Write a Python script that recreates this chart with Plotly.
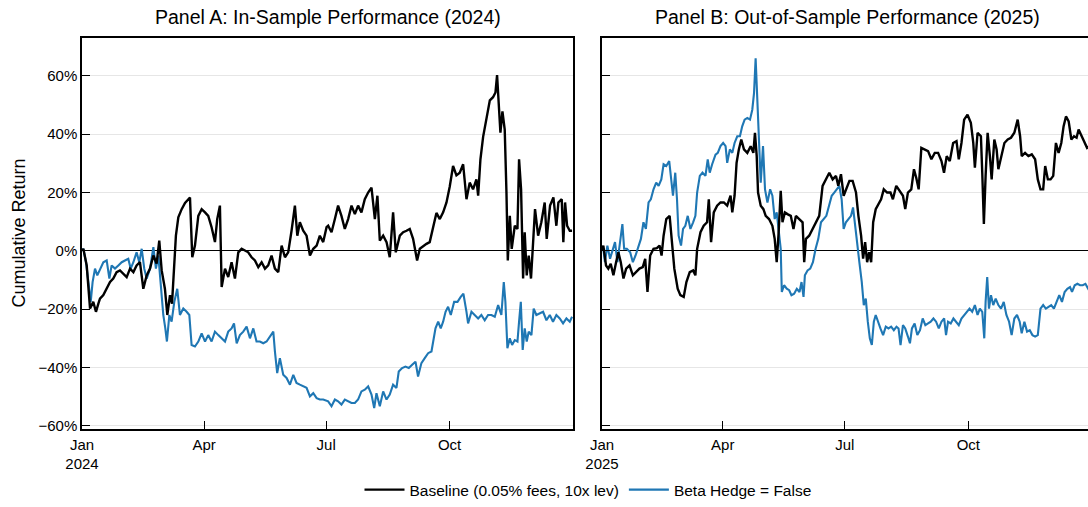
import pandas as pd
import plotly.graph_objects as go
from plotly.subplots import make_subplots

# --------------------------------------------------
# DATA (day offset from Jan 1, cumulative return in %)
# --------------------------------------------------
days_a_base = [
    0, 1.0, 3.5, 6.0, 8.4, 10.4, 12.2, 13.4, 15.9, 18.4, 20.9,
    23.3, 25.8, 28.3, 30.8, 33.3, 35.8, 38.3, 40.7, 43.2, 45.7,
    48.2, 50.7, 53.2, 55.6, 57.6, 59.4, 61.8, 63.6, 65.6, 67.1,
    68.6, 70.0, 71.8, 74.3, 76.8, 79.2, 80.5, 82.2, 84.2, 86.7,
    89.2, 91.7, 94.1, 96.6, 99.1, 100.8, 102.8, 104.1, 106.6, 109.0,
    111.5, 114.0, 116.5, 119.0, 121.5, 123.9, 126.4, 128.9, 131.4, 133.9,
    136.4, 138.8, 141.3, 143.8, 146.3, 148.8, 151.3, 153.7, 156.2, 158.7,
    160.5, 162.4, 164.9, 167.4, 169.9, 172.4, 174.9, 177.3, 179.8, 182.3,
    183.5, 186.0, 188.5, 190.9, 193.4, 195.9, 198.4, 200.9, 203.4, 205.8,
    208.3, 210.8, 213.3, 215.8, 218.3, 220.2, 222.0, 224.5, 227.0, 229.4,
    231.9, 233.9, 236.9, 239.4, 241.9, 244.3, 246.8, 249.8, 251.8, 254.3,
    256.8, 259.2, 261.7, 264.2, 266.7, 269.2, 271.7, 274.1, 276.6, 279.1,
    281.6, 284.1, 286.6, 289.0, 291.5, 294.0, 295.3, 297.0, 299.0, 301.5,
    304.0, 306.4, 308.2, 309.4, 310.7, 311.9, 313.4, 315.1, 316.4, 317.4,
    318.9, 320.3, 322.6, 324.6, 325.8, 327.3, 328.8, 330.0, 331.5, 333.0,
    334.7, 336.5, 337.7, 340.0, 342.4, 344.9, 346.4, 348.9, 351.4, 353.6,
    355.1, 357.6, 358.8, 360.1, 361.6, 363.6, 365.3,
]
ret_a_base = [
    0, 0.7, -5.0, -19.8, -17.5, -20.9, -18.1, -16.4, -15.2, -13.0, -10.7,
    -9.5, -7.3, -6.7, -7.8, -9.0, -6.1, -7.3, -5.0, -3.9, -13.0,
    -8.4, -6.1, -1.6, -4.4, 3.5, -6.7, -13.0, -22.0, -15.2, -18.1,
    -6.1, 5.2, 11.5, 14.3, 16.4, 17.5, 18.3, -2.2, 1.8, 12.0,
    14.3, 13.2, 12.0, 8.1, 3.0, 10.9, 15.5, -12.4, -6.1, -9.0,
    -3.9, -9.5, -0.5, 0.7, 0.1, -0.5, -2.2, -3.3, -5.6, -3.9,
    -6.1, -5.0, -1.6, -6.1, -7.3, 1.8, -2.2, -0.5, 6.9, 15.5,
    5.2, 9.8, 6.9, 5.2, -1.6, 0.7, 1.8, 5.2, 3.0, 8.1,
    8.6, 6.4, 10.9, 15.5, 12.0, 7.5, 10.9, 15.5, 12.6, 15.5,
    13.2, 17.7, 20.0, 21.7, 10.9, 18.9, 3.5, 5.2, 3.0, -2.2,
    13.2, -0.5, 5.2, 6.4, 6.9, 7.5, 4.1, -3.3, 0.7, 1.6,
    2.4, 3.0, 7.5, 13.0, 10.9, 13.2, 16.6, 22.0, 29.1, 25.9,
    26.8, 29.7, 17.7, 23.4, 21.1, 24.5, 18.9, 31.4, 39.1, 44.8,
    51.6, 52.7, 54.3, 60.3, 51.8, 40.5, 47.8, 41.6, 20.0, -3.3,
    12.0, 0.7, 8.6, 7.5, 31.4, 21.1, -9.5, 6.4, -8.4, -1.6,
    -9.5, 3.0, 14.3, 5.2, 9.8, 16.6, 4.1, 15.5, 18.3, 8.6,
    16.6, 17.7, 3.0, 16.6, 8.6, 6.9, 6.9,
]

days_a_hedge = [
    0, 1.0, 3.0, 4.7, 6.5, 7.9, 9.7, 11.4, 13.4, 15.9, 18.4,
    20.4, 22.1, 24.6, 27.1, 29.6, 32.0, 34.5, 36.3, 38.3, 40.7,
    42.7, 44.5, 46.4, 48.2, 50.7, 53.2, 55.1, 56.9, 58.6, 60.6,
    62.1, 63.3, 65.1, 66.8, 68.8, 71.0, 73.0, 75.5, 78.0, 80.0,
    81.7, 84.2, 86.7, 89.2, 91.7, 94.1, 96.6, 99.1, 101.6, 104.1,
    106.6, 109.0, 111.5, 113.3, 115.3, 117.7, 120.2, 122.7, 125.2, 127.7,
    130.1, 132.6, 135.1, 137.6, 140.1, 142.6, 143.8, 145.5, 147.5, 150.0,
    152.5, 155.0, 157.5, 159.9, 162.4, 164.9, 167.4, 169.9, 172.4, 174.9,
    177.3, 179.8,
    183.5, 186.0, 188.5, 190.9, 193.4, 195.9, 198.4, 200.9, 203.4, 205.8,
    208.3, 210.8, 213.3, 215.8, 217.8, 219.5, 222.0, 224.5, 227.0, 229.4,
    231.9, 234.4, 236.1, 238.6, 241.1, 243.6, 246.1, 248.6, 250.5, 253.0,
    255.5, 258.0, 260.5, 261.7, 263.5, 265.5, 267.4, 269.2, 271.0, 272.9,
    274.9, 277.4, 279.9, 282.3, 284.3, 286.6, 287.8, 290.3, 292.8, 295.3,
    297.7, 300.2, 302.7, 305.2, 307.7, 310.2, 312.6, 314.4, 315.6, 317.1,
    318.9, 320.6, 322.6, 324.6, 325.8, 327.1, 328.5, 330.0, 331.5, 333.0,
    335.0, 336.7, 338.7, 341.2, 343.7, 346.2, 348.7, 351.1, 353.6, 356.1,
    358.6, 361.1, 363.6, 365.3,
]
ret_a_hedge = [
    0, 0.7, -3.9, -10.7, -17.5, -10.7, -6.1, -8.4, -6.1, -3.9, -3.3,
    -9.5, -5.0, -6.1, -5.0, -3.9, -3.3, -2.7, -6.1, -3.9, -0.5,
    -3.9, 0.7, -6.1, -9.5, -6.1, 1.3, -6.1, -1.6, -10.7, -22.0,
    -26.6, -31.1, -22.0, -24.3, -17.5, -13.0, -22.0, -19.8, -20.9, -22.0,
    -32.3, -32.8, -31.1, -28.3, -31.1, -28.9, -31.1, -27.7, -28.9, -30.0,
    -31.1, -27.7, -26.6, -24.9, -31.7, -28.9, -27.7, -26.0, -30.0, -26.6,
    -31.1, -31.1, -31.7, -31.1, -29.4, -27.7, -34.5, -41.9, -36.8, -42.5,
    -43.6, -45.9, -42.5, -45.3, -45.9, -46.5, -47.0, -49.9, -48.8, -50.5,
    -51.0, -51.0,
    -51.6, -53.3, -51.0, -51.6, -52.7, -51.0, -51.6, -52.2, -52.2, -51.0,
    -48.2, -47.6, -46.5, -49.3, -53.9, -48.8, -53.3, -48.2, -51.0, -49.3,
    -45.9, -47.0, -41.4, -40.2, -39.7, -40.2, -39.1, -38.0, -43.1, -38.5,
    -36.8, -35.1, -34.5, -31.1, -26.6, -24.3, -26.6, -24.3, -20.9, -19.2,
    -22.0, -17.5, -17.5, -15.8, -14.7, -20.9, -24.9, -20.9, -22.0, -23.2,
    -22.0, -23.8, -22.0, -22.0, -22.6, -18.6, -22.0, -10.7, -17.5, -33.4,
    -30.0, -32.3, -30.6, -31.1, -24.3, -17.5, -34.0, -26.6, -31.1, -27.7,
    -28.9, -19.8, -22.0, -21.5, -20.9, -23.8, -22.0, -24.3, -22.0, -23.2,
    -24.9, -23.2, -24.3, -22.6,
]

days_b_base = [
    0, 1.0, 3.0, 4.7, 6.5, 8.5, 10.5, 12.2, 14.0, 16.0, 18.0,
    20.5, 23.0, 25.5, 27.9, 30.4, 32.2, 33.9, 35.9, 38.4, 40.9,
    42.9, 44.4, 45.9, 47.9, 50.4, 52.1, 53.9, 56.4, 58.4, 60.9,
    62.9, 65.4, 67.9, 69.6, 70.9, 73.4, 75.8, 78.3, 79.6, 81.3,
    83.3, 85.8, 88.3, 90.8, 93.3, 95.8, 97.1, 98.8, 100.3, 102.0,
    103.8, 105.8, 108.3, 110.8, 112.8, 114.0, 115.3, 116.3, 118.3, 120.3,
    122.0, 124.5, 127.0, 128.7, 130.2, 131.5, 133.2, 134.5, 136.3, 138.2,
    140.7, 142.7, 144.5, 147.0, 149.5, 150.7, 152.0, 154.4, 156.9, 159.4,
    161.9, 164.4, 166.9, 169.4, 171.9, 174.4, 176.1, 178.1, 180.1, 182.6,
    184.4,
    186.8, 189.3, 191.1, 193.1, 194.6, 196.1, 197.6, 199.1, 200.6, 202.1,
    204.0, 206.0, 208.0, 210.0, 212.5, 215.0, 216.8, 219.3, 221.8, 224.3,
    226.0, 228.0, 230.5, 232.5, 234.2, 236.0, 238.0, 240.5, 243.0, 245.5,
    248.0, 250.5, 253.0, 254.9, 256.9, 259.2, 261.7, 264.2, 265.9, 267.9,
    269.9, 272.4, 274.9, 276.7, 277.9, 279.9, 282.4, 283.4, 284.6, 285.9,
    287.4, 289.1, 290.4, 292.4, 294.1, 295.4, 297.4, 299.9, 302.4, 304.8,
    307.3, 309.8, 311.6, 312.8, 315.3, 317.8, 320.3, 322.8, 324.8, 326.8,
    328.8, 330.3, 332.3, 334.3, 336.3, 338.3, 340.3, 342.3, 344.0, 345.8,
    347.8, 349.8, 351.8, 353.7, 355.2, 357.7, 359.7, 361.5, 363.2,
]
ret_b_base = [
    0, 1.8, -5.0, -6.1, -4.4, -8.4, -3.9, -0.5, -3.9, -9.5, -6.1,
    -5.0, -8.4, -7.3, -6.1, -5.6, -2.7, -14.1, -1.6, 0.7, 0.9,
    1.8, -1.6, 5.2, 10.9, 12.0, 3.0, -6.1, -13.0, -15.2, -15.8,
    -10.7, -7.3, -6.7, -8.4, 0.7, 6.4, 8.6, 9.8, 17.7, 3.0,
    13.2, 15.5, 16.6, 16.6, 15.5, 18.9, 13.2, 18.9, 30.2, 34.8,
    38.2, 34.8, 33.6, 35.9, 33.6, 40.5, 32.5, 20.0, 15.5, 14.3,
    12.0, 10.9, 8.6, 4.1, -3.9, 5.2, 20.6, 9.8, 13.2, 12.6,
    12.0, 7.5, 12.0, 10.9, 9.8, -3.9, 4.1, 5.2, 7.5, 9.8,
    12.0, 22.3, 24.5, 26.8, 24.5, 25.7, 22.3, 26.3, 18.9, 22.3,
    24.0,
    24.0, 20.0, 12.0, 5.2, -2.7, 3.0, -3.9, -0.5, -3.9, 9.8,
    14.3, 16.0, 17.7, 21.1, 20.0, 20.0, 17.7, 22.3, 20.6, 18.9,
    14.3, 20.0, 21.1, 28.0, 25.1, 21.1, 35.3, 34.8, 34.2, 31.4,
    33.6, 33.6, 30.8, 26.8, 32.5, 30.8, 37.0, 37.6, 31.4, 37.0,
    45.0, 46.7, 43.9, 37.0, 28.5, 40.5, 39.3, 26.8, 9.2, 25.7,
    40.5, 32.5, 24.5, 38.2, 34.8, 28.0, 32.5, 37.0, 38.2, 38.8,
    40.5, 45.0, 39.3, 32.5, 33.6, 32.5, 33.1, 31.4, 24.5, 21.1,
    21.1, 29.1, 24.5, 24.5, 25.7, 37.0, 33.6, 37.0, 42.7, 46.1,
    44.4, 38.2, 39.3, 38.8, 41.6, 39.3, 37.0, 35.3, 35.9,
]

days_b_hedge = [
    0, 1.0, 2.2, 4.0, 6.0, 8.0, 9.7, 11.5, 13.5, 15.2, 16.5,
    18.5, 21.0, 23.0, 25.0, 27.2, 29.0, 30.9, 32.7, 34.7, 36.4,
    38.4, 40.4, 42.2, 44.2, 45.9, 47.9, 50.1, 51.6, 52.9, 54.6,
    55.9, 57.1, 58.9, 60.4, 62.1, 63.9, 65.9, 67.9, 69.6, 70.9,
    72.9, 74.9, 77.1, 78.8, 80.3, 82.1, 84.6, 86.3, 88.3, 90.3,
    92.1, 93.3, 95.3, 97.1, 98.8, 100.8, 102.8, 104.5, 106.3, 108.3,
    110.3, 112.0, 113.3, 114.5, 115.8, 117.0, 118.3, 120.0, 121.5, 123.3,
    125.3, 127.0, 128.7, 130.2, 132.0, 133.2, 134.0, 135.7, 137.7, 139.5,
    141.2, 143.2, 145.2, 147.2, 148.7, 150.2, 151.2, 153.2, 155.2, 157.2,
    159.2, 161.2, 163.2, 165.2, 167.2, 169.2, 171.2, 173.1, 175.1, 176.9,
    178.6,
    180.1, 181.8, 183.6, 185.6, 187.1, 188.6, 190.1, 191.8, 193.6, 195.1,
    196.6, 198.1, 199.6, 201.1, 202.6, 204.0, 205.5, 207.5, 209.5, 211.5,
    213.5, 215.5, 217.5, 219.5, 221.0, 222.5, 224.3, 226.0, 228.0, 229.5,
    231.0, 233.0, 235.0, 237.0, 239.0, 241.0, 243.0, 245.0, 247.0, 249.0,
    251.0, 253.0, 255.0, 256.4, 257.9, 259.9, 261.9, 263.9, 265.9, 267.9,
    269.9, 271.9, 273.9, 275.9, 277.9, 279.9, 281.6, 283.4, 284.9, 285.9,
    287.1, 288.4, 289.9, 291.6, 293.4, 295.4, 297.4, 299.4, 301.4, 303.4,
    305.3, 307.3, 309.3, 311.3, 312.8, 314.8, 316.8, 318.8, 320.8, 322.8,
    324.8, 326.8, 328.8, 330.8, 332.8, 334.8, 336.8, 338.8, 340.8, 342.8,
    344.8, 346.8, 348.8, 350.3, 352.3, 354.3, 356.3, 358.3, 360.3, 362.3,
    363.7,
]
ret_b_hedge = [
    0, 0.7, -3.9, 1.8, -2.7, 0.7, 3.0, -3.9, 3.0, 9.2, 0.7,
    0.7, -0.5, -3.9, -1.6, 1.8, 4.1, 9.8, 7.5, 16.6, 17.7,
    21.1, 23.4, 22.3, 24.5, 29.7, 29.1, 30.8, 23.4, 18.9, 26.8,
    17.7, 5.2, 1.8, 7.5, 8.6, 12.0, 7.5, 9.8, 12.0, 20.0,
    25.7, 26.8, 25.7, 31.4, 26.8, 29.7, 33.0, 33.6, 35.9, 37.0,
    35.9, 30.2, 34.8, 33.6, 37.0, 39.3, 39.3, 42.7, 45.0, 45.6,
    45.0, 48.4, 54.1, 66.0, 51.8, 37.0, 23.4, 35.9, 21.1, 16.6,
    21.1, 18.9, 10.9, 13.2, 6.4, 0.7, -14.1, -11.8, -13.0, -13.5,
    -15.2, -14.7, -13.0, -14.1, -10.7, -15.8, -8.4, -6.7, -6.1, -3.9,
    0.7, 4.1, 9.8, 10.9, 12.0, 15.5, 18.9, 20.0, 21.1, 22.3,
    17.7,
    7.5, 9.8, 10.9, 12.0, 14.9, 9.8, 3.0, -3.9, -10.7, -18.6,
    -16.4, -24.3, -30.0, -32.3, -24.3, -22.0, -24.3, -26.6, -28.9, -26.0,
    -26.6, -26.0, -27.2, -26.0, -26.6, -32.3, -25.5, -26.6, -29.4, -31.7,
    -26.6, -24.9, -28.9, -27.2, -23.2, -25.5, -24.9, -24.3, -23.2, -24.3,
    -26.6, -24.3, -23.2, -28.9, -24.3, -24.9, -23.2, -24.3, -25.5, -23.2,
    -22.0, -20.9, -19.8, -20.9, -18.6, -22.0, -19.8, -20.9, -30.0, -17.5,
    -9.0, -19.8, -15.2, -18.6, -16.4, -18.6, -19.8, -17.5, -22.0, -24.3,
    -28.9, -23.2, -22.0, -24.3, -28.3, -24.3, -27.7, -27.2, -28.9, -29.4,
    -28.9, -19.8, -18.6, -19.8, -19.2, -18.6, -19.8, -17.5, -15.2, -17.5,
    -14.1, -13.0, -12.4, -14.1, -11.8, -11.3, -11.8, -11.8, -11.3, -13.0,
    -14.1,
]

y_ticks = [-60, -40, -20, 0, 20, 40, 60]
y_tick_labels = ["\u221260%", "\u221240%", "\u221220%", "0%", "20%", "40%", "60%"]
month_ticks = ["01-01", "04-01", "07-01", "10-01"]
month_labels = ["Jan", "Apr", "Jul", "Oct"]

BLACK = "#000000"
BLUE = "#1f77b4"
FONT = "Liberation Sans, Arial, sans-serif"

W, H = 1088, 507
DOM_A = [82 / W, 573 / W]
DOM_B = [602 / W, 1.0]


def to_dates(year, days):
    return pd.Timestamp(f"{year}-01-01") + pd.to_timedelta(days, unit="D")


for d, v in [(days_a_base, ret_a_base), (days_a_hedge, ret_a_hedge),
             (days_b_base, ret_b_base), (days_b_hedge, ret_b_hedge)]:
    assert len(d) == len(v), (len(d), len(v))

fig = make_subplots(rows=1, cols=2, horizontal_spacing=0.03)

panels = [
    (1, 2024, days_a_base, ret_a_base, days_a_hedge, ret_a_hedge),
    (2, 2025, days_b_base, ret_b_base, days_b_hedge, ret_b_hedge),
]
for col, year, db, rb, dh, rh in panels:
    fig.add_trace(go.Scatter(
        x=to_dates(year, dh), y=rh, mode="lines",
        line=dict(color=BLUE, width=2.1),
        name="Beta Hedge = False", showlegend=(col == 1),
        legendrank=2,
    ), row=1, col=col)
    fig.add_trace(go.Scatter(
        x=to_dates(year, db), y=rb, mode="lines",
        line=dict(color=BLACK, width=2.4),
        name="Baseline (0.05% fees, 10x lev)", showlegend=(col == 1),
        legendrank=1,
    ), row=1, col=col)

# --------------------------------------------------
# EJES
# --------------------------------------------------
axis_common = dict(
    showline=True, linecolor="black", linewidth=1.5,
    ticks="inside", ticklen=8, tickwidth=1.2, tickcolor="black",
    tickfont=dict(size=15, color="black", family=FONT),
    automargin=False,
)
fig.update_xaxes(showgrid=False, zeroline=False, mirror=True,
                 ticklabelstandoff=1, **axis_common)
fig.update_yaxes(
    range=[-61.1, 73], tickmode="array", tickvals=y_ticks, ticktext=y_tick_labels,
    showgrid=True, gridcolor="#e6e6e6", gridwidth=1,
    zeroline=True, zerolinecolor="black", zerolinewidth=1.3,
    **axis_common
)

fig.update_xaxes(
    domain=DOM_A,
    range=["2024-01-01", "2025-01-01"],
    tickvals=[f"2024-{m}" for m in month_ticks],
    ticktext=[month_labels[0] + "<br>2024"] + month_labels[1:],
    row=1, col=1,
)
fig.update_xaxes(
    domain=DOM_B,
    range=["2025-01-01", "2025-12-29 05:00"],
    tickvals=[f"2025-{m}" for m in month_ticks],
    ticktext=[month_labels[0] + "<br>2025"] + month_labels[1:],
    row=1, col=2,
)
fig.update_yaxes(mirror=True, row=1, col=1)
fig.update_yaxes(mirror=False, showticklabels=False, row=1, col=2)

# titulos de paneles
titles = [
    ("Panel A: In-Sample Performance (2024)", (82 + 573) / 2 / W),
    ("Panel B: Out-of-Sample Performance (2025)", (602 + 1093) / 2 / W),
]
for text, xc in titles:
    fig.add_annotation(
        text=text, x=xc, y=1, xref="paper", yref="paper",
        xanchor="center", yanchor="bottom", yshift=8, showarrow=False,
        font=dict(size=19.5, color="black", family=FONT),
    )

# titulo eje y
fig.add_annotation(
    text="Cumulative Return", textangle=-90,
    x=18 / W, y=0.5, xref="paper", yref="paper",
    xanchor="center", yanchor="middle", showarrow=False,
    font=dict(size=18, color="black", family=FONT),
)

fig.update_layout(
    width=W, height=H,
    margin=dict(l=0, r=0, t=38, b=76),
    plot_bgcolor="white", paper_bgcolor="white",
    font=dict(family=FONT, color="black"),
    legend=dict(
        orientation="h", x=588 / W, xanchor="center", y=-0.113, yanchor="top",
        font=dict(size=15.5, color="black"), itemwidth=40,
        traceorder="normal",
    ),
)

# sin margen del body para que la figura ocupe la ventana exacta
fig.write_html(
    "out.html",
    config={"displayModeBar": False},
    post_script="document.body.style.margin='0';",
)
